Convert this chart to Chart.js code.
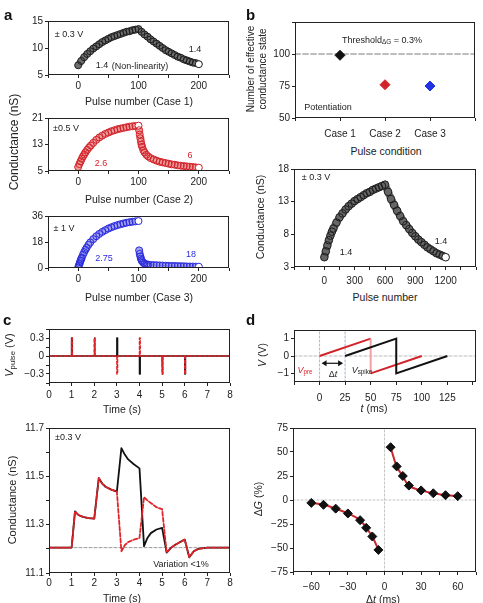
<!DOCTYPE html>
<html>
<head>
<meta charset="utf-8">
<script src="https://cdn.jsdelivr.net/npm/chart.js@4.4.1/dist/chart.umd.min.js"></script>
<style>
  body { margin: 0; background: #fff; }
  #fig { position: relative; width: 483px; height: 603px; overflow: hidden;
         font-family: 'Liberation Sans', Arial, sans-serif; color: #222; }
  .box { position: absolute; }
  .t { position: absolute; white-space: nowrap; line-height: 1; font-size: 10.5px; color: #222;
       transform: translate(-50%, -50%); }
  .rot { transform: translate(-50%, -50%) rotate(-90deg); text-align: center; }
  .note { font-size: 9px; }
  .letter { position: absolute; font-weight: bold; font-size: 15px; line-height: 1; color: #111; }
  sub { font-size: 0.7em; vertical-align: -0.3em; line-height: 0; }
  .t.red { color: #d2232a; }
  .t.blue { color: #2b2bdd; }
</style>
</head>
<body>
<div id="fig">
  <div class="box" id="a1"><canvas></canvas></div>
  <div class="box" id="a2"><canvas></canvas></div>
  <div class="box" id="a3"><canvas></canvas></div>
  <div class="box" id="b1"><canvas></canvas></div>
  <div class="box" id="b2"><canvas></canvas></div>
  <div class="box" id="c1"><canvas></canvas></div>
  <div class="box" id="c2"><canvas></canvas></div>
  <div class="box" id="d1"><canvas></canvas></div>
  <div class="box" id="d2"><canvas></canvas></div>

  <div class="letter" style="left:4px;top:7px">a</div>
  <div class="letter" style="left:246px;top:7px">b</div>
  <div class="letter" style="left:3px;top:312px">c</div>
  <div class="letter" style="left:246px;top:312px">d</div>

  <!-- a -->
  <div class="t rot" style="left:14px;top:142px;font-size:12px">Conductance (nS)</div>
  <div class="t" style="left:139px;top:101px">Pulse number (Case 1)</div>
  <div class="t" style="left:139px;top:199px">Pulse number (Case 2)</div>
  <div class="t" style="left:139px;top:297px">Pulse number (Case 3)</div>
  <div class="t note" style="left:69px;top:34px">± 0.3 V</div>
  <div class="t note" style="left:102px;top:65px">1.4</div>
  <div class="t note" style="left:140px;top:66px">(Non-linearity)</div>
  <div class="t note" style="left:195px;top:49px">1.4</div>
  <div class="t note" style="left:66px;top:128px">±0.5 V</div>
  <div class="t note red" style="left:101px;top:163px">2.6</div>
  <div class="t note red" style="left:190px;top:155px">6</div>
  <div class="t note" style="left:64px;top:228px">± 1 V</div>
  <div class="t note blue" style="left:104px;top:258px">2.75</div>
  <div class="t note blue" style="left:191px;top:254px">18</div>

  <!-- b -->
  <div class="t rot" style="left:257px;top:69px;font-size:10px;line-height:12px">Number of effective<br>conductance state</div>
  <div class="t note" style="left:382px;top:40px">Threshold<sub>ΔG</sub> = 0.3%</div>
  <div class="t note" style="left:328px;top:107px">Potentiation</div>
  <div class="t" style="left:386px;top:151px;color:#222">Pulse condition</div>
  <div class="t rot" style="left:260px;top:217px">Conductance (nS)</div>
  <div class="t" style="left:385px;top:297px;color:#222">Pulse number</div>
  <div class="t note" style="left:316px;top:177px">± 0.3 V</div>
  <div class="t note" style="left:346px;top:252px">1.4</div>
  <div class="t note" style="left:441px;top:241px">1.4</div>

  <!-- c -->
  <div class="t rot" style="left:9px;top:355px;font-size:11px"><i>V</i><sub>pulse</sub> (V)</div>
  <div class="t" style="left:122px;top:409px">Time (s)</div>
  <div class="t rot" style="left:12px;top:500px;font-size:11px">Conductance (nS)</div>
  <div class="t" style="left:122px;top:598px">Time (s)</div>
  <div class="t note" style="left:68px;top:437px">±0.3 V</div>
  <div class="t note" style="left:181px;top:564px">Variation &lt;1%</div>

  <!-- d -->
  <div class="t rot" style="left:262px;top:355px"><i>V</i> (V)</div>
  <div class="t" style="left:374px;top:408px"><i>t</i> (ms)</div>
  <div class="t note red" style="left:305px;top:370px"><i>V</i><sub>pre</sub></div>
  <div class="t note" style="left:333px;top:374px;color:#222">Δ<i>t</i></div>
  <div class="t note" style="left:362px;top:370px"><i>V</i><sub>spike</sub></div>
  <div class="t rot" style="left:258px;top:499px">Δ<i>G</i> (%)</div>
  <div class="t" style="left:383px;top:599px;color:#222">Δ<i>t</i> (ms)</div>
</div>

<script>
// ---------- data ----------
// panel a, case 1 (±0.3 V)
const case1Pulse = [0,5,10,15,20,25,30,35,40,45,50,55,60,65,70,75,80,85,90,95,100,
  105,110,115,120,125,130,135,140,145,150,155,160,165,170,175,180,185,190,195,200];
const case1G = [6.8,7.6,8.3,8.9,9.4,9.9,10.3,10.7,11.1,11.4,11.7,12.0,12.2,12.4,12.6,12.8,13.0,13.1,13.3,13.4,13.5,
  13.0,12.5,12.1,11.6,11.2,10.8,10.4,10.0,9.6,9.3,9.0,8.7,8.4,8.2,7.9,7.7,7.5,7.3,7.2,7.0];

// case 2 (±0.5 V)
const case2Pulse = [0,2,4,6,8,10,12,15,18,21,25,30,35,40,45,50,55,60,65,70,75,80,85,90,95,100,
  101,102,103,104,105,106,108,110,113,116,120,125,130,135,140,145,150,155,160,165,170,175,180,185,190,195,200];
const case2G = [6.2,7.1,7.9,8.7,9.4,10.0,10.6,11.4,12.1,12.7,13.5,14.4,15.1,15.7,16.2,16.6,17.0,17.3,17.6,17.8,18.0,18.2,18.4,18.5,18.6,18.7,
  17.3,16.0,14.9,13.9,13.0,12.3,11.3,10.6,9.9,9.4,8.9,8.5,8.1,7.8,7.6,7.4,7.2,7.0,6.9,6.7,6.6,6.5,6.4,6.3,6.2,6.1,6.0];

// case 3 (±1 V)
const case3Pulse = [0,1,2,3,4,5,6,8,10,12,14,17,20,25,30,35,40,45,50,55,60,65,70,75,80,85,90,95,100,
  101,102,103,104,105,106,108,110,113,116,120,125,130,135,140,145,150,155,160,165,170,175,180,185,190,195,200];
const case3G = [0.3,1.5,2.8,4.0,5.1,6.2,7.2,9.2,11.0,12.6,14.0,16.0,17.7,20.0,22.0,23.6,25.0,26.2,27.3,28.2,29.0,29.7,30.3,30.8,31.3,31.7,32.0,32.3,32.5,
  12.2,9.8,8.0,6.5,5.4,4.6,3.6,3.0,2.6,2.3,2.1,2.0,1.9,1.8,1.7,1.6,1.5,1.45,1.4,1.3,1.25,1.2,1.1,1.05,1.0,0.95,0.9];

// panel b, effective states
const caseNames = ['Case 1', 'Case 2', 'Case 3'];
const effStates = [99, 76, 75];
const caseColors = ['#111111', '#d2232a', '#2233e6'];
const threshold = 100;

// panel b, long ±0.3 V run
const longPulse = [0,15,30,45,60,75,90,120,150,180,210,240,270,300,330,360,390,420,450,480,510,540,570,600,
  630,660,690,720,750,780,810,840,870,900,930,960,990,1020,1050,1080,1110,1140,1170,1200];
const longG = [4.5,5.4,6.3,7.1,7.8,8.4,8.9,9.8,10.6,11.2,11.8,12.3,12.7,13.1,13.4,13.7,14.0,14.3,14.5,14.8,15.0,15.2,15.4,15.6,
  14.5,13.4,12.5,11.6,10.8,10.0,9.4,8.8,8.2,7.7,7.2,6.8,6.4,6.0,5.7,5.4,5.1,4.9,4.7,4.5];

// panel c, pulse sequences
const pulseTimes = [1, 2, 3, 4, 5, 6];
const seqBlack = [0.3, 0.3, 0.3, -0.3, -0.3, -0.3];
const seqRed = [0.3, 0.3, -0.3, 0.3, -0.3, -0.3];
const gTime = [0,1,1.15,1.3,1.5,1.75,2,2.2,2.35,2.5,2.75,3,3.2,3.35,3.5,3.75,4,4.2,4.35,4.5,4.75,5,5.2,5.4,5.6,5.8,6,6.2,6.4,6.6,7,8];
const gBlack = [11.205,11.205,11.355,11.34,11.332,11.327,11.325,11.493,11.47,11.457,11.445,11.437,11.617,11.59,11.57,11.55,11.533,
  11.211,11.245,11.265,11.28,11.287,11.184,11.205,11.218,11.228,11.238,11.165,11.19,11.2,11.205,11.205];
const gRed = [11.205,11.205,11.355,11.34,11.332,11.327,11.325,11.493,11.47,11.457,11.445,11.437,11.19,11.215,11.228,11.238,11.245,
  11.414,11.4,11.39,11.372,11.364,11.184,11.205,11.218,11.228,11.238,11.165,11.19,11.2,11.205,11.205];
const gBase = 11.205;

// panel d, waveforms and STDP
const preT = [0, 50, 50, 100];
const preV = [0, 1, -1, 0];
const spikeT = [25, 75, 75, 125];
const spikeV = [0, 1, -1, 0];
const dtSpan = [0, 25];
const dtNeg = [-60, -50, -40, -30, -20, -15, -10, -5];
const dgNeg = [-3, -5, -9, -14, -21, -29, -38, -52];
const dtPos = [5, 10, 15, 20, 30, 40, 50, 60];
const dgPos = [55, 35, 25, 15, 10, 7, 5, 4];

// ---------- setup ----------
Chart.defaults.font.family = "'Liberation Sans', Arial, sans-serif";
Chart.defaults.font.size = 10;
Chart.defaults.color = '#222';
Chart.defaults.animation = false;
Chart.defaults.plugins.legend.display = false;
Chart.defaults.plugins.tooltip.enabled = false;

// box around every plot area
Chart.register({
  id: 'frame',
  afterDatasetsDraw(chart) {
    const { ctx, chartArea: a } = chart;
    ctx.save();
    ctx.strokeStyle = '#222';
    ctx.lineWidth = 1;
    ctx.strokeRect(a.left + 0.5, a.top + 0.5, a.right - a.left - 1, a.bottom - a.top - 1);
    ctx.restore();
  }
});

const xy = (xs, ys) => xs.map((x, i) => ({ x, y: ys[i] }));
const minus = v => String(v).replace('-', '\u2212');

function axis(min, max, vals, shown, fmt, pad) {
  return {
    type: 'linear', min, max,
    afterBuildTicks: s => { s.ticks = vals.map(v => ({ value: v })); },
    ticks: {
      autoSkip: false, maxRotation: 0, padding: pad == null ? 2 : pad,
      callback: v => shown.includes(v) ? (fmt ? fmt(v) : minus(v)) : ''
    },
    grid: { drawOnChartArea: false, tickLength: 3, tickColor: '#222' },
    border: { display: false }
  };
}

// plot area given in page pixels: L, T, R, B
function draw(id, a, datasets, x, y, plugins) {
  const el = document.getElementById(id);
  el.style.left = (a[0] - 40) + 'px';
  el.style.top = (a[1] - 6) + 'px';
  el.style.width = (a[2] - a[0] + 46) + 'px';
  el.style.height = (a[3] - a[1] + 28) + 'px';
  x.afterFit = s => { s.height = 22; };
  y.afterFit = s => { s.width = 40; };
  return new Chart(el.querySelector('canvas'), {
    type: 'scatter',
    data: { datasets },
    options: {
      responsive: true,
      maintainAspectRatio: false,
      layout: { padding: { top: 6, right: 6, left: 0, bottom: 0 } },
      scales: { x, y }
    },
    plugins: plugins || []
  });
}

function line(points, color, width, dash) {
  return { data: points, showLine: true, pointRadius: 0, borderColor: color,
           borderWidth: width, borderDash: dash || [], borderCapStyle: 'round', borderJoinStyle: 'round' };
}

// dense open circles: a soft band under them fills the gaps between samples
function ringSeries(xs, ys, edge, band, r, openAt, splitAfter) {
  const pts = xy(xs, ys);
  const rings = {
    data: pts, pointRadius: r, pointBorderWidth: 1, pointBorderColor: edge,
    pointBackgroundColor: c => openAt.includes(c.raw.x) ? '#fff' : 'rgba(0,0,0,0)'
  };
  const up = pts.filter(p => p.x <= splitAfter[0]);
  const down = pts.filter(p => p.x >= splitAfter[1]);
  return [rings, line(up, band, 2 * r), line(down, band, 2 * r)];
}

// ---------- panel a ----------
const aTicks = [-50, 0, 50, 100, 150, 200, 250];
draw('a1', [48, 19, 229, 75],
  ringSeries(case1Pulse, case1G, '#1e1e1e', '#6e6e6e', 3.5, [200], [100, 100]),
  axis(-50, 250, aTicks, [0, 100, 200]), axis(5, 15, [5, 10, 15], [5, 10, 15]));
draw('a2', [48, 116, 229, 171],
  ringSeries(case2Pulse, case2G, '#d2232a', '#ee9c9c', 3.5, [100, 200], [100, 100]),
  axis(-50, 250, aTicks, [0, 100, 200]), axis(5, 21, [5, 13, 21], [5, 13, 21]));
draw('a3', [48, 214, 229, 268],
  ringSeries(case3Pulse, case3G, '#2b2bdd', '#a3a3f0', 3.5, [100, 200], [100, 101]),
  axis(-50, 250, aTicks, [0, 100, 200]), axis(0, 36, [0, 18, 36], [0, 18, 36]));

// ---------- panel b ----------
draw('b1', [295, 20, 476, 118],
  [
    { data: caseNames.map((n, i) => ({ x: i + 1, y: effStates[i] })), pointStyle: 'rectRot',
      pointRadius: 5, pointBackgroundColor: caseColors, pointBorderColor: caseColors },
    line([{ x: 0, y: threshold }, { x: 4, y: threshold }], '#bdbdbd', 2, [5, 3])
  ],
  axis(0, 4, [0, 1, 2, 3, 4], [1, 2, 3], v => caseNames[v - 1], 7),
  axis(50, 125, [50, 75, 100, 125], [50, 75, 100]));

draw('b2', [294, 167, 476, 267],
  ringSeries(longPulse, longG, '#1e1e1e', '#666', 3.8, [1200], [600, 600]),
  axis(-300, 1500, [-300, -150, 0, 150, 300, 450, 600, 750, 900, 1050, 1200, 1350, 1500], [0, 300, 600, 900, 1200], null, 5),
  axis(3, 18, [3, 8, 13, 18], [3, 8, 13, 18]));

// ---------- panel c ----------
function train(times, amps, w) {
  const pts = [{ x: 0, y: 0 }];
  times.forEach((t, i) => pts.push({ x: t, y: 0 }, { x: t, y: amps[i] }, { x: t + w, y: amps[i] }, { x: t + w, y: 0 }));
  pts.push({ x: 8, y: 0 });
  return pts;
}
const secTicks = [0, 1, 2, 3, 4, 5, 6, 7, 8];
draw('c1', [49, 327, 230, 383],
  [line(train(pulseTimes, seqRed, 0.03), '#e0242a', 1.5, [3, 2]),
   line(train(pulseTimes, seqBlack, 0.03), '#111', 1.5)],
  axis(0, 8, secTicks, secTicks, null, 3),
  axis(-0.45, 0.45, [-0.45, -0.3, -0.15, 0, 0.15, 0.3, 0.45], [-0.3, 0, 0.3]));

draw('c2', [49, 426, 230, 573],
  [line(xy(gTime, gRed), '#e0242a', 1.8, [4, 2]),
   line(xy(gTime, gBlack), '#111', 1.8),
   line([{ x: 0, y: gBase }, { x: 8, y: gBase }], '#9a9a9a', 1, [3, 2])],
  axis(0, 8, secTicks, secTicks, null, 1),
  axis(11.1, 11.7, [11.1, 11.2, 11.3, 11.4, 11.5, 11.6, 11.7], [11.1, 11.3, 11.5, 11.7], v => v.toFixed(1)));

// ---------- panel d ----------
const dtArrow = {
  id: 'dtArrow',
  afterDatasetsDraw(chart) {
    const { ctx, scales: { x, y } } = chart;
    const x0 = x.getPixelForValue(dtSpan[0]) + 2, x1 = x.getPixelForValue(dtSpan[1]) - 2;
    const yy = y.getPixelForValue(-0.42);
    ctx.save();
    ctx.strokeStyle = '#111';
    ctx.fillStyle = '#111';
    ctx.lineWidth = 1.2;
    ctx.beginPath(); ctx.moveTo(x0 + 3, yy); ctx.lineTo(x1 - 3, yy); ctx.stroke();
    [[x0, 1], [x1, -1]].forEach(([px, d]) => {
      ctx.beginPath(); ctx.moveTo(px, yy); ctx.lineTo(px + 5 * d, yy - 3); ctx.lineTo(px + 5 * d, yy + 3);
      ctx.closePath(); ctx.fill();
    });
    ctx.restore();
  }
};
draw('d1', [294, 328, 476, 382],
  [
    { data: xy(spikeT, spikeV), showLine: true, pointRadius: 0, borderColor: '#111', borderWidth: 2 },
    { data: xy(preT, preV), showLine: true, pointRadius: 0, borderWidth: 2, borderColor: '#d2232a',
      segment: { borderColor: c => c.p0DataIndex === 1 ? '#f2a0a0' : '#d2232a' } },
    line([{ x: -25, y: 0 }, { x: 153, y: 0 }], '#bbb', 1, [3, 2]),
    line([{ x: dtSpan[0], y: -1.5 }, { x: dtSpan[0], y: 1.5 }], '#f0a0a0', 1, [2, 2]),
    line([{ x: dtSpan[1], y: -1.5 }, { x: dtSpan[1], y: 1.5 }], '#9fb3cc', 1, [2, 2])
  ],
  axis(-25, 153, [-25, 0, 25, 50, 75, 100, 125, 150], [0, 25, 50, 75, 100, 125], null, 7),
  axis(-1.5, 1.5, [-1, 0, 1], [-1, 0, 1]),
  [dtArrow]);

draw('d2', [293, 426, 476, 572],
  [
    { data: xy(dtNeg, dgNeg).concat(xy(dtPos, dgPos)), pointStyle: 'rectRot', pointRadius: 4.5,
      pointBackgroundColor: '#111', pointBorderColor: '#111' },
    { data: xy(dtNeg, dgNeg), showLine: true, pointRadius: 0, borderColor: '#c8262c', borderWidth: 2, tension: 0.4 },
    { data: xy(dtPos, dgPos), showLine: true, pointRadius: 0, borderColor: '#c8262c', borderWidth: 2, tension: 0.4 },
    line([{ x: -75, y: 0 }, { x: 75, y: 0 }], '#c4c4c4', 1, [2, 2]),
    line([{ x: 0, y: -75 }, { x: 0, y: 75 }], '#c4c4c4', 1, [2, 2])
  ],
  axis(-75, 75, [-75, -60, -45, -30, -15, 0, 15, 30, 45, 60, 75], [-60, -30, 0, 30, 60], null, 6),
  axis(-75, 75, [-75, -50, -25, 0, 25, 50, 75], [-75, -50, -25, 0, 25, 50, 75]));
</script>
</body>
</html>
